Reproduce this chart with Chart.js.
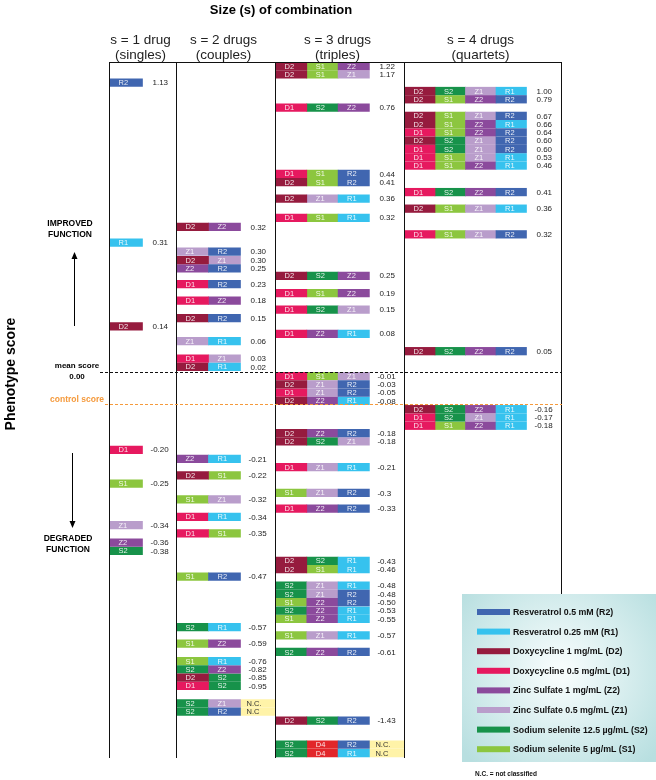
<!DOCTYPE html>
<html>
<head>
<meta charset="utf-8">
<script src="https://cdn.jsdelivr.net/npm/chart.js@4.4.0/dist/chart.umd.min.js"></script>
<style>
html,body{margin:0;padding:0;background:#fff}
canvas{display:block}
</style>
</head>
<body>
<canvas id="chart" width="656" height="780"></canvas>
<script>
// s = 1 drug (singles)
const singleCombos = ["R2","R1","D2","D1","S1","Z1","Z2","S2"];
const singleScores = ["1.13","0.31","0.14","-0.20","-0.25","-0.34","-0.36","-0.38"];
const singleRows = [2.5,21.8,31.9,46.8,50.9,55.9,58,59];

// s = 2 drugs (couples)
const coupleCombos = ["D2 Z2","Z1 R2","D2 Z1","Z2 R2","D1 R2","D1 Z2","D2 R2","Z1 R1","D1 Z1","D2 R1",
  "Z2 R1","D2 S1","S1 Z1","D1 R1","D1 S1","S1 R2","S2 R1","S1 Z2","S1 R1","S2 Z2","D2 S2","D1 S2","S2 Z1","S2 R2"];
const coupleScores = ["0.32","0.30","0.30","0.25","0.23","0.18","0.15","0.06","0.03","0.02",
  "-0.21","-0.22","-0.32","-0.34","-0.35","-0.47","-0.57","-0.59","-0.76","-0.82","-0.85","-0.95","N.C.","N.C"];
const coupleRows = [19.9,22.9,23.9,24.9,26.8,28.8,30.9,33.7,35.8,36.8,
  47.9,49.9,52.8,54.9,56.9,62.1,68.2,70.2,72.3,73.3,74.3,75.3,77.4,78.4];

// s = 3 drugs (triples)
const tripleCombos = ["D2 S1 Z2","D2 S1 Z1","D1 S2 Z2","D1 S1 R2","D2 S1 R2","D2 Z1 R1","D1 S1 R1","D2 S2 Z2",
  "D1 S1 Z2","D1 S2 Z1","D1 Z2 R1","D1 S1 Z1","D2 Z1 R2","D1 Z1 R2","D2 Z2 R1","D2 Z2 R2","D2 S2 Z1",
  "D1 Z1 R1","S1 Z1 R2","D1 Z2 R2","D2 S2 R1","D2 S1 R1","S2 Z1 R1","S2 Z1 R2","S1 Z2 R2","S2 Z2 R1",
  "S1 Z2 R1","S1 Z1 R1","S2 Z2 R2","D2 S2 R2","S2 D4 R2","S2 D4 R1"];
const tripleScores = ["1.22","1.17","0.76","0.44","0.41","0.36","0.32","0.25","0.19","0.15","0.08",
  "-0.01","-0.03","-0.05","-0.08","-0.18","-0.18","-0.21","-0.3","-0.33","-0.43","-0.46","-0.48","-0.48",
  "-0.50","-0.53","-0.55","-0.57","-0.61","-1.43","N.C.","N.C"];
const tripleRows = [0.5,1.5,5.5,13.5,14.5,16.5,18.8,25.8,27.9,29.9,32.8,37.9,38.9,39.9,40.9,44.8,45.8,
  48.9,52,53.9,60.2,61.2,63.2,64.2,65.2,66.2,67.2,69.2,71.2,79.5,82.4,83.4];

// s = 4 drugs (quartets)
const quartetCombos = ["D2 S2 Z1 R1","D2 S1 Z2 R2","D2 S1 Z1 R2","D2 S1 Z2 R1","D1 S1 Z2 R2","D2 S2 Z1 R2",
  "D1 S2 Z1 R2","D1 S1 Z1 R1","D1 S1 Z2 R1","D1 S2 Z2 R2","D2 S1 Z1 R1","D1 S1 Z1 R2","D2 S2 Z2 R2",
  "D2 S2 Z2 R1","D1 S2 Z1 R1","D1 S1 Z2 R1"];
const quartetScores = ["1.00","0.79","0.67","0.66","0.64","0.60","0.60","0.53","0.46","0.41","0.36","0.32",
  "0.05","-0.16","-0.17","-0.18"];
const quartetRows = [3.5,4.5,6.5,7.5,8.5,9.5,10.5,11.5,12.5,15.7,17.7,20.8,34.9,41.9,42.9,43.9];

const colTitles = ["s = 1 drug","s = 2 drugs","s = 3 drugs","s = 4 drugs"];
const colSubtitles = ["(singles)","(couples)","(triples)","(quartets)"];

const drugCodes = ["R2","R1","D2","D1","Z2","Z1","S2","S1"];
const drugNames = ["Resveratrol 0.5 mM (R2)","Resveratrol 0.25 mM (R1)","Doxycycline 1 mg/mL (D2)",
  "Doxycycline 0.5 mg/mL (D1)","Zinc Sulfate 1 mg/mL (Z2)","Zinc Sulfate 0.5 mg/mL (Z1)",
  "Sodium selenite 12.5 \u00b5g/mL (S2)","Sodium selenite 5 \u00b5g/mL (S1)"];

const meanRow = 37.4;
const controlRow = 41.3;

// layout (x in px from the frame's left edge)
const colors = {R2:"#4066b0",R1:"#36c2ee",D2:"#961b3e",D1:"#e6195f",Z2:"#8b4a9c",Z1:"#b99dcb",
  S2:"#17924a",S1:"#8cc63f",D4:"#e2262a",NC:"#fff3a8"};
const colEdges = [0,67,166,295,452];
const segW = [33,32,31.3,30.5];
const font = '"Liberation Sans", Arial, sans-serif';

const columns = [
  {combos:singleCombos, scores:singleScores, rows:singleRows},
  {combos:coupleCombos, scores:coupleScores, rows:coupleRows},
  {combos:tripleCombos, scores:tripleScores, rows:tripleRows},
  {combos:quartetCombos, scores:quartetScores, rows:quartetRows}
];

// one dataset per drug code, floating bars
const byCode = {};
Object.keys(colors).forEach(k => byCode[k] = []);
columns.forEach((col, c) => {
  col.combos.forEach((combo, i) => {
    const parts = combo.split(" ");
    const x0 = colEdges[c] + 0.5;
    parts.forEach((p, j) => {
      byCode[p].push({x:[x0 + j*segW[c], x0 + (j+1)*segW[c]], y:col.rows[i], label:p});
    });
    if (col.scores[i].startsWith("N.C")) {
      byCode.NC.push({x:[x0 + parts.length*segW[c], colEdges[c+1]], y:col.rows[i], label:col.scores[i]});
    }
  });
});
const datasets = Object.keys(byCode).map(k => ({code:k, data:byCode[k], backgroundColor:colors[k]}));

const figurePlugin = {
  id: "figure",
  afterDatasetsDraw(chart) {
    const {ctx, chartArea:a, scales:{x, y}} = chart;
    ctx.save();
    ctx.textBaseline = "middle";
    // labels inside the segments
    chart.data.datasets.forEach((ds, di) => {
      chart.getDatasetMeta(di).data.forEach((el, i) => {
        const left = Math.min(el.x, el.base);
        ctx.font = "7.5px " + font;
        ctx.fillStyle = ds.code == "NC" ? "#333" : "rgba(255,255,255,0.88)";
        ctx.fillText(ds.data[i].label, left + (ds.code == "NC" ? 6 : 9), el.y + 0.5);
      });
    });
    // score values
    ctx.font = "8px " + font;
    ctx.fillStyle = "#222";
    columns.forEach((col, c) => {
      col.scores.forEach((s, i) => {
        if (s.startsWith("N.C")) return;
        const n = col.combos[i].split(" ").length;
        const xv = colEdges[c] + 0.5 + n*segW[c] + 10;
        ctx.fillText(s, x.getPixelForValue(xv) - (s[0] == "-" ? 2 : 0), y.getPixelForValue(col.rows[i]) + 0.5);
      });
    });
    // frame
    ctx.strokeStyle = "#111";
    ctx.lineWidth = 1;
    ctx.beginPath();
    colEdges.forEach(e => {
      const px = Math.round(x.getPixelForValue(e)) + 0.5;
      ctx.moveTo(px, a.top); ctx.lineTo(px, a.bottom);
    });
    ctx.moveTo(a.left, Math.round(a.top) + 0.5); ctx.lineTo(a.right + 1, Math.round(a.top) + 0.5);
    ctx.stroke();
    // mean and control score lines
    const my = Math.round(y.getPixelForValue(meanRow)) + 0.5;
    const cy = Math.round(y.getPixelForValue(controlRow)) + 0.5;
    ctx.setLineDash([3,2]);
    ctx.beginPath(); ctx.moveTo(100, my); ctx.lineTo(a.right + 1, my); ctx.stroke();
    ctx.strokeStyle = "#f59a3c";
    ctx.beginPath(); ctx.moveTo(105, cy); ctx.lineTo(a.right + 1, cy); ctx.stroke();
    ctx.setLineDash([]);
    ctx.restore();
  },
  afterDraw(chart) {
    const {ctx, scales:{x, y}} = chart;
    ctx.save();
    ctx.fillStyle = "#000";
    ctx.textAlign = "center";
    ctx.textBaseline = "middle";
    ctx.font = "bold 13px " + font;
    ctx.fillText("Size (s) of combination", 281, 10);
    ctx.font = "13.5px " + font;
    ctx.fillStyle = "#222";
    colTitles.forEach((t, c) => {
      const cx = x.getPixelForValue((colEdges[c] + colEdges[c+1]) / 2) - 2;
      ctx.fillText(t, cx, 40);
      ctx.fillText(colSubtitles[c], cx, 55);
    });
    // left side labels
    ctx.fillStyle = "#000";
    ctx.font = "bold 8.5px " + font;
    ctx.fillText("IMPROVED", 70, 224);
    ctx.fillText("FUNCTION", 70, 235);
    ctx.fillText("DEGRADED", 68, 539);
    ctx.fillText("FUNCTION", 68, 550);
    ctx.font = "bold 8px " + font;
    ctx.fillText("mean score", 77, 366);
    ctx.fillText("0.00", 77, 377);
    ctx.fillStyle = "#f59a3c";
    ctx.font = "bold 8.5px " + font;
    ctx.fillText("control score", 77, 400);
    // arrows
    ctx.strokeStyle = "#000"; ctx.fillStyle = "#000"; ctx.lineWidth = 1;
    ctx.beginPath(); ctx.moveTo(74.5, 326); ctx.lineTo(74.5, 258); ctx.stroke();
    ctx.beginPath(); ctx.moveTo(74.5, 252); ctx.lineTo(71.5, 259); ctx.lineTo(77.5, 259); ctx.fill();
    ctx.beginPath(); ctx.moveTo(72.5, 453); ctx.lineTo(72.5, 521); ctx.stroke();
    ctx.beginPath(); ctx.moveTo(72.5, 528); ctx.lineTo(69.5, 521); ctx.lineTo(75.5, 521); ctx.fill();
    // y title
    ctx.save();
    ctx.translate(11, 374);
    ctx.rotate(-Math.PI/2);
    ctx.fillStyle = "#000";
    ctx.font = "bold 14px " + font;
    ctx.fillText("Phenotype score", 0, 0);
    ctx.restore();
    // legend box
    const bx = 462, by = 594, bw = 194, bh = 168;
    const g = ctx.createRadialGradient(560, 672, 8, 560, 672, 125);
    g.addColorStop(0, "#f6fcfc");
    g.addColorStop(1, "#b8dfe0");
    ctx.fillStyle = g;
    ctx.fillRect(bx, by, bw, bh);
    ctx.textAlign = "left";
    ctx.font = "bold 8.8px " + font;
    drugCodes.forEach((code, i) => {
      const ly = 612 + i*19.6;
      ctx.fillStyle = colors[code];
      ctx.fillRect(477, ly - 3, 33, 6);
      ctx.fillStyle = "#111";
      ctx.fillText(drugNames[i], 513, ly + 0.5);
    });
    ctx.font = "bold 6.5px " + font;
    ctx.fillText("N.C. = not classified", 475, 774);
    ctx.restore();
  }
};

new Chart(document.getElementById("chart"), {
  type: "bar",
  data: {datasets},
  options: {
    indexAxis: "y",
    responsive: false,
    animation: false,
    layout: {padding: {left:109, right:95, top:62, bottom:22}},
    datasets: {bar: {barThickness: 7.6, grouped: false, borderWidth: 0}},
    scales: {
      x: {type:"linear", min:0, max:452, display:false},
      y: {type:"linear", min:0, max:84, reverse:true, offset:false, display:false}
    },
    plugins: {legend:{display:false}, tooltip:{enabled:false}}
  },
  plugins: [figurePlugin]
});
</script>
</body>
</html>
